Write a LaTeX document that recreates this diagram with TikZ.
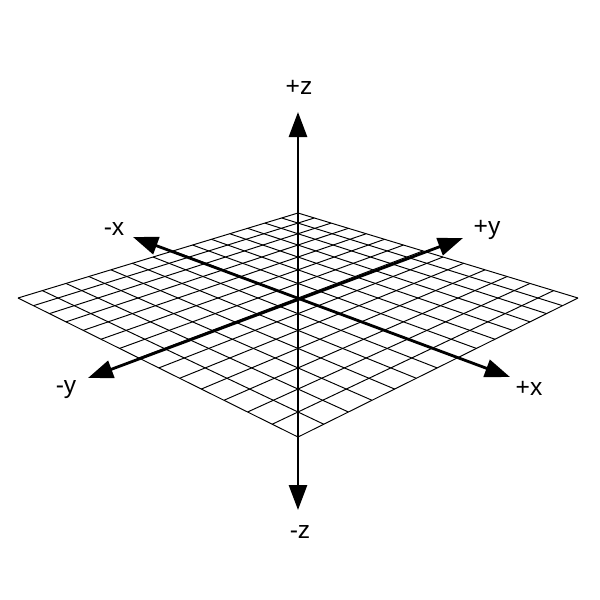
\documentclass[tikz,border=0pt]{standalone}
\usepackage{fontspec}
\setmainfont{Liberation Sans}
\usetikzlibrary{arrows.meta}

\tikzset{
  axis/.style={line width=1.6pt, {Triangle[length=0.5cm,width=0.36cm]}-{Triangle[length=0.5cm,width=0.36cm]}},
  gridline/.style={line width=0.55pt},
  axislabel/.style={font=\fontsize{14}{16}\selectfont},
  % perspective map of the floor grid
  declare function={gw(\a,\b)=1-0.01722*(\a-\b);
    gx(\a,\b)=298+20*(\a+\b)/gw(\a,\b);
    gy(\a,\b)=298+7.535*(\a-\b)/gw(\a,\b);}
}

\begin{document}
\begin{tikzpicture}[x=0.02cm,y=-0.02cm]
    \useasboundingbox (0,0) rectangle (600,600);

    % floor grid
    \foreach \i in {-7,...,7} {
      \draw[gridline] ({gx(\i,-7)},{gy(\i,-7)}) -- ({gx(\i,7)},{gy(\i,7)});
      \draw[gridline] ({gx(-7,\i)},{gy(-7,\i)}) -- ({gx(7,\i)},{gy(7,\i)});
    }

    \coordinate (zp) at (298,112);
    \coordinate (zn) at (298,510);
    \coordinate (xp) at (510,377);
    \coordinate (xn) at (133,237);
    \coordinate (yp) at (463,238);
    \coordinate (yn) at (88,378);

    \draw[axis] (zn) -- (zp);
    \draw[axis] (xn) -- (xp);
    \draw[axis] (yn) -- (yp);

    \node[axislabel] (zplbl) at (299,87) {+z};
    \node[axislabel] (znlbl) at (300,532) {-z};
    \node[axislabel] (xplbl) at (529,388) {+x};
    \node[axislabel] (xnlbl) at (114,229) {-x};
    \node[axislabel] (yplbl) at (487,230) {+y};
    \node[axislabel] (ynlbl) at (66,390) {-y};
\end{tikzpicture}
\end{document}
